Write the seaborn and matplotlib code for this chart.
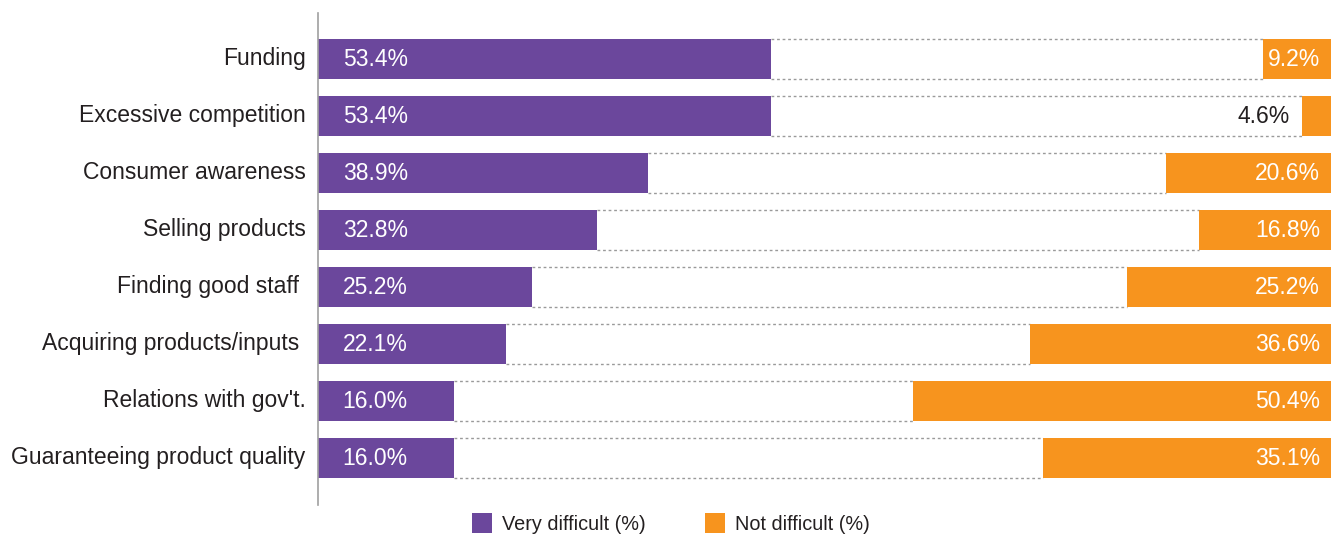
import matplotlib
matplotlib.use("Agg")
import matplotlib.pyplot as plt
import matplotlib.transforms as mtransforms
from matplotlib.patches import Patch
import seaborn as sns
import pandas as pd

categories = [
    "Funding",
    "Excessive competition",
    "Consumer awareness",
    "Selling products",
    "Finding good staff ",
    "Acquiring products/inputs ",
    "Relations with gov't.",
    "Guaranteeing product quality",
]
very_difficult = [53.4, 53.4, 38.9, 32.8, 25.2, 22.1, 16.0, 16.0]
not_difficult = [9.2, 4.6, 20.6, 16.8, 25.2, 36.6, 50.4, 35.1]
legend_labels = ["Very difficult (%)", "Not difficult (%)"]

PURPLE = "#6B479C"
ORANGE = "#F7941E"
TEXT = "#231F20"
BAR_END = 120.5      # right end shared by every row
X_MAX = 119.3
BAR_H = 0.70

df = pd.DataFrame({"category": categories,
                   "very": very_difficult,
                   "notd": not_difficult})

sns.set_style("white")
plt.rcParams["font.family"] = ["Liberation Sans", "DejaVu Sans"]

fig = plt.figure(figsize=(13.31, 5.35), dpi=100)
ax = fig.add_axes([0.239, 0.056, 0.761, 0.920])

sns.barplot(data=df, x="very", y="category", color=PURPLE, saturation=1,
            width=BAR_H, linewidth=0, ax=ax, orient="h")

ypos = list(range(len(categories)))
starts = [BAR_END - v for v in not_difficult]
ax.barh(ypos, not_difficult, left=starts, height=BAR_H, color=ORANGE,
        linewidth=0, zorder=2)

# dotted outline of the remaining middle segment
for y, v, s in zip(ypos, very_difficult, starts):
    for dy in (-BAR_H / 2, BAR_H / 2):
        ax.hlines(y + dy, v, s, colors="#9a9a9a", linewidth=1.0,
                  linestyles=(0, (2, 2)), zorder=1)

fs = 16.5
for y, v in zip(ypos, very_difficult):
    ax.text(2.9, y, f"{v:.1f}%", color="white", fontsize=fs,
            ha="left", va="center", zorder=3)
for y, v, s in zip(ypos, not_difficult, starts):
    if v < 6:
        ax.text(s - 1.5, y, f"{v:.1f}%", color=TEXT, fontsize=fs,
                ha="right", va="center", zorder=3)
    else:
        ax.text(118.0, y, f"{v:.1f}%", color="white", fontsize=fs,
                ha="right", va="center", zorder=3)

ax.set_xlim(0, X_MAX)
ax.set_ylim(7.82, -0.81)
ax.set_xlabel("")
ax.set_ylabel("")
ax.set_xticks([])
ax.tick_params(axis="y", length=0, pad=9, labelsize=fs, labelcolor=TEXT)
lift = mtransforms.ScaledTranslation(0, 3 / 100, fig.dpi_scale_trans)
for lbl in ax.get_yticklabels():
    lbl.set_transform(lbl.get_transform() + lift)
for side in ("top", "right", "bottom"):
    ax.spines[side].set_visible(False)
ax.spines["left"].set_color("#a0a0a0")
ax.spines["left"].set_linewidth(1.2)

handles = [Patch(facecolor=PURPLE, edgecolor="none"),
           Patch(facecolor=ORANGE, edgecolor="none")]
fig.legend(handles, legend_labels, loc="center", bbox_to_anchor=(0.504, 0.022),
           ncol=2, frameon=False, fontsize=14.3, handlelength=1.0,
           handleheight=1.15, handletextpad=0.5, columnspacing=3.0,
           labelcolor=TEXT)

fig.savefig("out.png", dpi=100)
